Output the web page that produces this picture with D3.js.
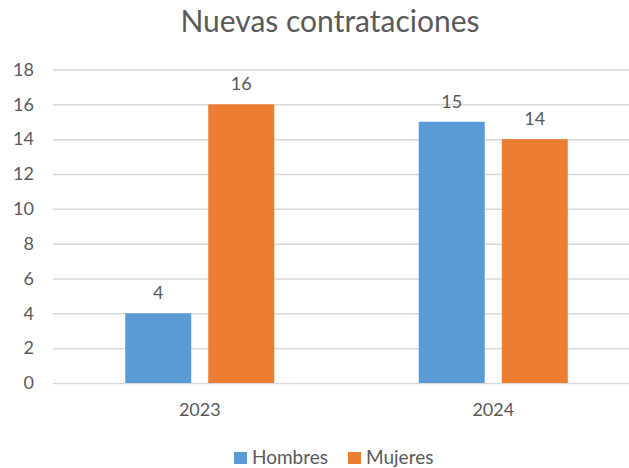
<!DOCTYPE html>
<html>
<head>
<meta charset="utf-8">
<script src="https://cdn.jsdelivr.net/npm/d3@7"></script>
<style>
  html, body { margin: 0; padding: 0; background: #fff; overflow: hidden; }
  svg { display: block; font-family: Lato, "Open Sans", sans-serif; }
</style>
</head>
<body>
<svg id="chart"></svg>
<script>
// Datos
const years = ['2023', '2024'];
const seriesNames = ['Hombres', 'Mujeres'];
const hombres = [4, 15];
const mujeres = [16, 14];
const yTicks = [0, 2, 4, 6, 8, 10, 12, 14, 16, 18];

const COLORS = { Hombres: '#5B9BD5', Mujeres: '#ED7D31' };
const TEXT = '#595959';
const GRID = '#D9D9D9';

const width = 629, height = 468;
const plot = { left: 53, right: 640, top: 69.5, bottom: 383 };

const svg = d3.select('#chart').attr('width', width).attr('height', height);

// Escalas
const x0 = d3.scaleBand().domain(years).range([plot.left, plot.right]).padding(0);
const x1 = d3.scaleBand().domain(seriesNames).range([0, x0.bandwidth()])
  .paddingInner(0.205).paddingOuter(0.87);
const y = d3.scaleLinear().domain([0, 18]).range([plot.bottom, plot.top]);

// Título
svg.append('text')
  .attr('x', 330).attr('y', 32)
  .attr('text-anchor', 'middle')
  .style('font-size', '30px')
  .style('fill', TEXT)
  .text('Nuevas contrataciones');

// Líneas de cuadrícula y eje Y
const yAxis = svg.append('g')
  .attr('transform', `translate(${plot.left},0)`)
  .call(d3.axisLeft(y).tickValues(yTicks).tickSize(-(plot.right - plot.left)).tickPadding(19));
yAxis.select('.domain').remove();
yAxis.selectAll('.tick line').attr('stroke', GRID).attr('stroke-width', 1.5);
yAxis.selectAll('.tick text')
  .style('font-size', '18px').style('fill', TEXT).style('font-family', 'Lato');

// Eje X
const xAxis = svg.append('g')
  .attr('transform', `translate(0,${plot.bottom})`)
  .call(d3.axisBottom(x0).tickSize(0).tickPadding(20));
xAxis.select('.domain').remove();
xAxis.selectAll('.tick text')
  .style('font-size', '18px').style('fill', TEXT).style('font-family', 'Lato');

// Barras
const rows = years.map((yr, i) => ({ year: yr, values: [
  { key: 'Hombres', value: hombres[i] },
  { key: 'Mujeres', value: mujeres[i] }
]}));

const groups = svg.selectAll('g.year')
  .data(rows)
  .join('g')
  .attr('class', 'year')
  .attr('transform', d => `translate(${x0(d.year)},0)`);

groups.selectAll('rect')
  .data(d => d.values)
  .join('rect')
  .attr('x', d => x1(d.key))
  .attr('y', d => y(d.value))
  .attr('width', x1.bandwidth())
  .attr('height', d => y(0) - y(d.value))
  .attr('fill', d => COLORS[d.key]);

// Etiquetas de datos
groups.selectAll('text.lbl')
  .data(d => d.values)
  .join('text')
  .attr('class', 'lbl')
  .attr('x', d => x1(d.key) + x1.bandwidth() / 2)
  .attr('y', d => y(d.value) - 14)
  .attr('text-anchor', 'middle')
  .style('font-size', '18px')
  .style('fill', TEXT)
  .text(d => d.value);

// Leyenda
const legendItems = [
  { key: 'Hombres', x: 234 },
  { key: 'Mujeres', x: 348 }
];
const legend = svg.append('g');
legend.selectAll('rect')
  .data(legendItems)
  .join('rect')
  .attr('x', d => d.x).attr('y', 452)
  .attr('width', 13).attr('height', 12)
  .attr('fill', d => COLORS[d.key]);
legend.selectAll('text')
  .data(legendItems)
  .join('text')
  .attr('x', d => d.x + 18).attr('y', 464)
  .style('font-size', '19px')
  .style('fill', TEXT)
  .text(d => d.key);
</script>
</body>
</html>
